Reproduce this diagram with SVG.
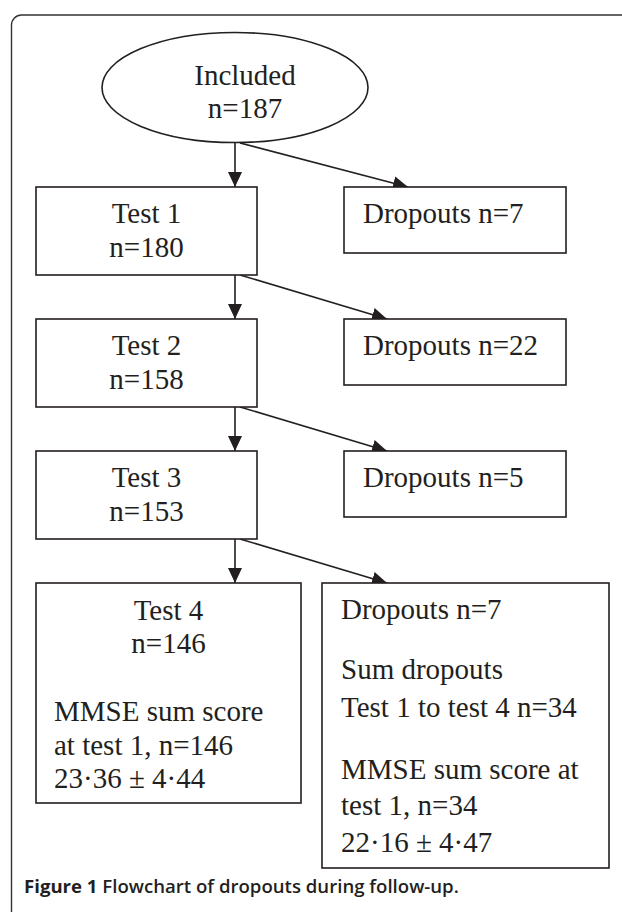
<svg xmlns="http://www.w3.org/2000/svg" width="622" height="912" viewBox="0 0 622 912">
<defs>
<marker id="ah" markerUnits="userSpaceOnUse" markerWidth="15" markerHeight="14" refX="15" refY="7" orient="auto" viewBox="0 0 15 14">
<path d="M0,0 L15,7 L0,14 z" fill="#231f20"/>
</marker>
</defs>
<style>
.box{fill:#fff;stroke:#231f20;stroke-width:1.6}
.t{font-family:"Liberation Serif","Times New Roman",serif;font-size:29px;fill:#231f20}
.c{text-anchor:middle}
.conn{stroke:#231f20;stroke-width:1.6;fill:none;marker-end:url(#ah)}
.cap{font-family:"Open Sans","Noto Sans",sans-serif;font-size:18.6px;fill:#231f20}
</style>
<rect width="622" height="912" fill="#fff"/>
<path id="frame" d="M11.5,912 V25 A10,10 0 0 1 21.5,15 H622" fill="none" stroke="#333" stroke-width="1.4"/>
<g id="connectors">
<line class="conn" x1="235" y1="143" x2="235" y2="187"/>
<line class="conn" x1="240" y1="143" x2="408" y2="187"/>
<line class="conn" x1="235" y1="275" x2="235" y2="319"/>
<line class="conn" x1="240" y1="275" x2="387" y2="319"/>
<line class="conn" x1="235" y1="407" x2="235" y2="451"/>
<line class="conn" x1="240" y1="407" x2="387" y2="451"/>
<line class="conn" x1="235" y1="539" x2="235" y2="583"/>
<line class="conn" x1="240" y1="539" x2="387" y2="583"/>
</g>
<g id="included">
<ellipse class="box" cx="235" cy="87.5" rx="133" ry="55"/>
<text class="t c" x="245" y="85">Included</text>
<text class="t c" x="245" y="118">n=187</text>
</g>
<g id="test1">
<rect class="box" x="36" y="187" width="221" height="88"/>
<text class="t c" x="146.5" y="223">Test 1</text>
<text class="t c" x="146.5" y="257">n=180</text>
</g>
<g id="drop1">
<rect class="box" x="344" y="187" width="222" height="66"/>
<text class="t" x="363" y="223">Dropouts n=7</text>
</g>
<g id="test2">
<rect class="box" x="36" y="319" width="221" height="88"/>
<text class="t c" x="146.5" y="355">Test 2</text>
<text class="t c" x="146.5" y="389">n=158</text>
</g>
<g id="drop2">
<rect class="box" x="344" y="319" width="222" height="66"/>
<text class="t" x="363" y="355">Dropouts n=22</text>
</g>
<g id="test3">
<rect class="box" x="36" y="451" width="221" height="88"/>
<text class="t c" x="146.5" y="487">Test 3</text>
<text class="t c" x="146.5" y="521">n=153</text>
</g>
<g id="drop3">
<rect class="box" x="344" y="451" width="222" height="66"/>
<text class="t" x="363" y="487">Dropouts n=5</text>
</g>
<g id="test4">
<rect class="box" x="36" y="583" width="265" height="220"/>
<text class="t c" x="168.5" y="620">Test 4</text>
<text class="t c" x="168.5" y="653">n=146</text>
<text class="t" x="54" y="721">MMSE sum score</text>
<text class="t" x="54" y="755">at test 1, n=146</text>
<text class="t" x="54" y="788">23·36 ± 4·44</text>
</g>
<g id="drop4">
<rect class="box" x="322" y="583" width="287" height="285"/>
<text class="t" x="341" y="619">Dropouts n=7</text>
<text class="t" x="341" y="679">Sum dropouts</text>
<text class="t" x="341" y="717">Test 1 to test 4 n=34</text>
<text class="t" x="341" y="779">MMSE sum score at</text>
<text class="t" x="341" y="815">test 1, n=34</text>
<text class="t" x="341" y="852">22·16 ± 4·47</text>
</g>
<text class="cap" x="24" y="893"><tspan font-weight="700">Figure 1</tspan><tspan font-weight="600"> Flowchart of dropouts during follow-up.</tspan></text>
</svg>
